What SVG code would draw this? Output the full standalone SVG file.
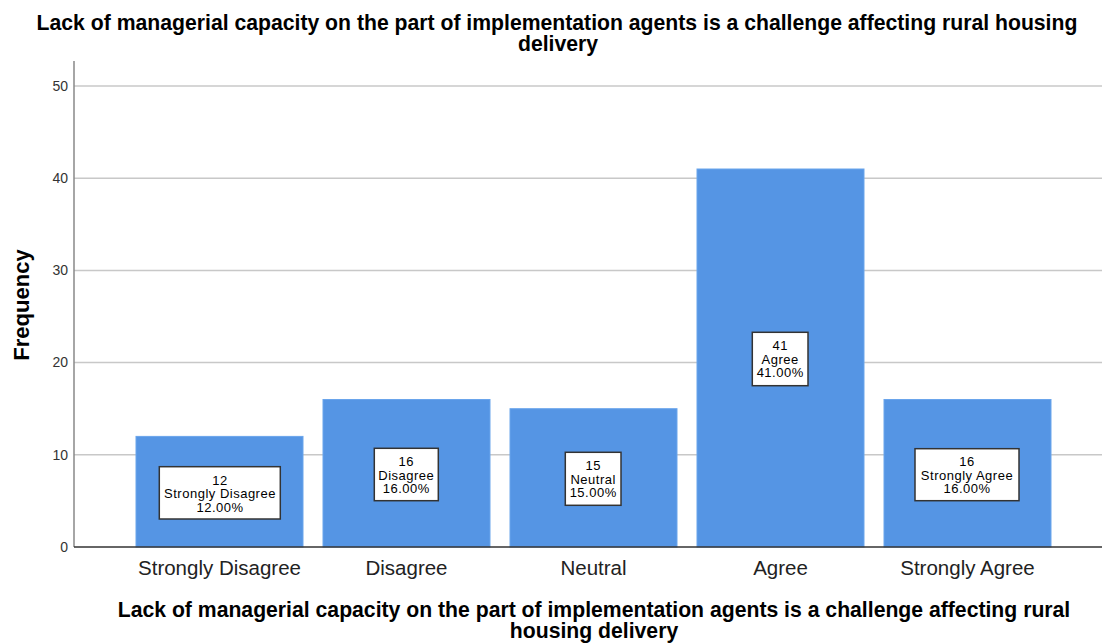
<svg xmlns="http://www.w3.org/2000/svg" width="1102" height="643" viewBox="0 0 1102 643">
<style>
.title{font-family:"Liberation Sans",Arial,sans-serif;font-weight:bold;font-size:21.2px;fill:#000;text-anchor:middle}
.tick{font-family:"Liberation Sans",Arial,sans-serif;font-size:14px;fill:#333;text-anchor:end}
.cat{font-family:"Liberation Sans",Arial,sans-serif;font-size:20.5px;fill:#222;text-anchor:middle}
.lbl{font-family:"Liberation Sans",Arial,sans-serif;font-size:13px;letter-spacing:0.5px;fill:#000;text-anchor:middle}
.grid{stroke:#c8c8c8;stroke-width:1.5}
.bar{fill:#5595E4;stroke:#6aa5ec;stroke-width:1}
.box{fill:#fff;stroke:#333;stroke-width:1.5}
</style>
<rect width="1102" height="643" fill="#fff"/>
<g id="title">
<text class="title" x="557" y="30">Lack of managerial capacity on the part of implementation agents is a challenge affecting rural housing</text>
<text class="title" x="558" y="51">delivery</text>
</g>
<g id="grid">
<line class="grid" x1="74" y1="86" x2="1102" y2="86"/>
<line class="grid" x1="74" y1="178.2" x2="1102" y2="178.2"/>
<line class="grid" x1="74" y1="270.4" x2="1102" y2="270.4"/>
<line class="grid" x1="74" y1="362.6" x2="1102" y2="362.6"/>
<line class="grid" x1="74" y1="454.8" x2="1102" y2="454.8"/>
</g>
<g id="yaxis">
<line x1="74" y1="61" x2="74" y2="547" stroke="#888" stroke-width="1.5"/>
<text class="tick" x="68" y="91">50</text>
<text class="tick" x="68" y="183">40</text>
<text class="tick" x="68" y="275">30</text>
<text class="tick" x="68" y="367">20</text>
<text class="tick" x="68" y="460">10</text>
<text class="tick" x="68" y="552">0</text>
<text transform="translate(29,305) rotate(-90)" font-family="Liberation Sans,Arial,sans-serif" font-weight="bold" font-size="22" text-anchor="middle" fill="#000">Frequency</text>
</g>
<g id="bar-strongly-disagree">
<rect class="bar" x="136" y="436.4" width="167" height="110.6"/>
<rect class="box" x="159.3" y="466.7" width="121" height="52.3"/>
<text class="lbl" x="220" y="484.5">12</text>
<text class="lbl" x="220" y="498">Strongly Disagree</text>
<text class="lbl" x="220" y="511.5">12.00%</text>
</g>
<g id="bar-disagree">
<rect class="bar" x="323" y="399.5" width="167" height="147.5"/>
<rect class="box" x="374.3" y="448.3" width="64" height="52.4"/>
<text class="lbl" x="406.3" y="466">16</text>
<text class="lbl" x="406.3" y="479.5">Disagree</text>
<text class="lbl" x="406.3" y="493">16.00%</text>
</g>
<g id="bar-neutral">
<rect class="bar" x="510" y="408.7" width="167" height="138.3"/>
<rect class="box" x="565.3" y="452.3" width="55.7" height="53"/>
<text class="lbl" x="593.2" y="470">15</text>
<text class="lbl" x="593.2" y="483.5">Neutral</text>
<text class="lbl" x="593.2" y="497">15.00%</text>
</g>
<g id="bar-agree">
<rect class="bar" x="697" y="169" width="167" height="378"/>
<rect class="box" x="752.3" y="332.3" width="55.7" height="53.4"/>
<text class="lbl" x="780.2" y="350">41</text>
<text class="lbl" x="780.2" y="363.5">Agree</text>
<text class="lbl" x="780.2" y="377">41.00%</text>
</g>
<g id="bar-strongly-agree">
<rect class="bar" x="884" y="399.5" width="167" height="147.5"/>
<rect class="box" x="915" y="448.7" width="104" height="52"/>
<text class="lbl" x="967" y="466">16</text>
<text class="lbl" x="967" y="479.5">Strongly Agree</text>
<text class="lbl" x="967" y="493">16.00%</text>
</g>
<g id="xaxis">
<line x1="74" y1="547" x2="1102" y2="547" stroke="#333" stroke-width="1.5"/>
<text class="cat" x="219.5" y="575">Strongly Disagree</text>
<text class="cat" x="406.5" y="575">Disagree</text>
<text class="cat" x="593.5" y="575">Neutral</text>
<text class="cat" x="780.5" y="575">Agree</text>
<text class="cat" x="967.5" y="575">Strongly Agree</text>
<text class="title" x="594" y="617">Lack of managerial capacity on the part of implementation agents is a challenge affecting rural</text>
<text class="title" x="594" y="638">housing delivery</text>
</g>
</svg>
